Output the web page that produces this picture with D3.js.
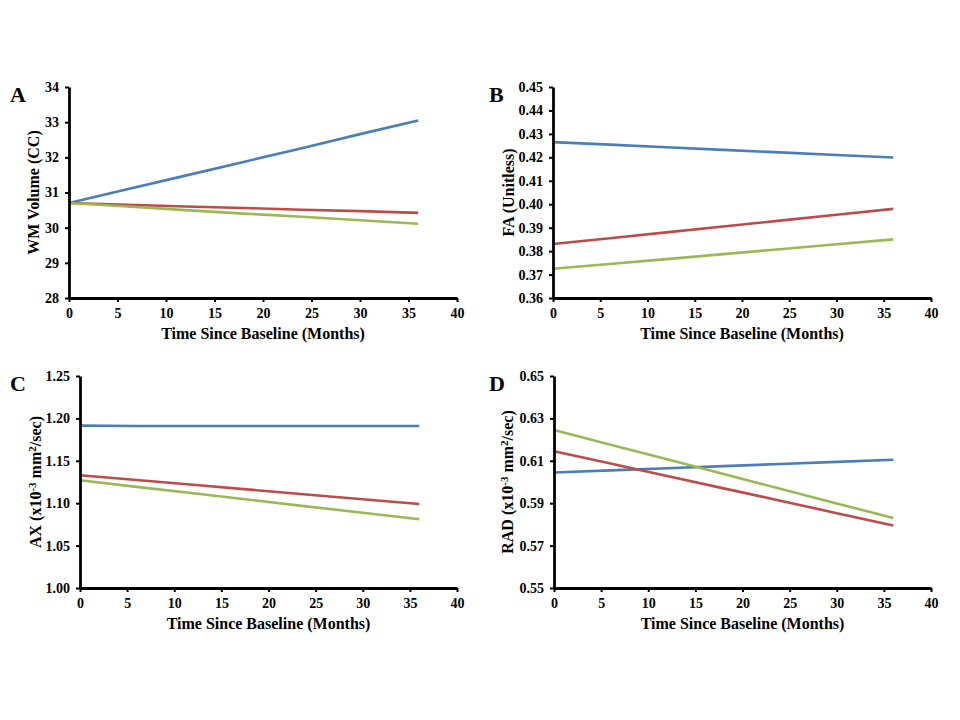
<!DOCTYPE html>
<html>
<head>
<meta charset="utf-8">
<script src="https://cdnjs.cloudflare.com/ajax/libs/d3/7.8.5/d3.min.js"></script>
<style>
body { margin: 0; background: #fff; }
text { font-family: "Liberation Serif", "Times New Roman", serif; font-weight: bold; }
</style>
</head>
<body>
<svg id="chart" width="960" height="720"></svg>
<script>
// months at which the fitted values are shown
var months = [0, 6, 12, 18, 24, 30, 36];

// series colours (blue, red, green)
var colors = ["#4a7ebb", "#be4b48", "#98b954"];

// A: WM volume
var volBlue  = [30.70, 31.09, 31.48, 31.87, 32.26, 32.66, 33.05];
var volRed   = [30.70, 30.65, 30.60, 30.56, 30.51, 30.47, 30.42];
var volGreen = [30.70, 30.60, 30.50, 30.40, 30.31, 30.21, 30.11];

// B: FA
var faBlue  = [0.4265, 0.4254, 0.4243, 0.4232, 0.4221, 0.4210, 0.4199];
var faRed   = [0.3830, 0.3855, 0.3880, 0.3905, 0.3930, 0.3955, 0.3980];
var faGreen = [0.3725, 0.3745, 0.3766, 0.3787, 0.3808, 0.3829, 0.3850];

// C: AX
var axBlue  = [1.1915, 1.1910, 1.1910, 1.1910, 1.1910, 1.1910, 1.1910];
var axRed   = [1.1330, 1.1273, 1.1217, 1.1160, 1.1103, 1.1047, 1.0990];
var axGreen = [1.1270, 1.1193, 1.1117, 1.1040, 1.0963, 1.0887, 1.0810];

// D: RAD
var radBlue  = [0.6045, 0.6055, 0.6065, 0.6075, 0.6085, 0.6095, 0.6105];
var radRed   = [0.6145, 0.6087, 0.6028, 0.5970, 0.5912, 0.5853, 0.5795];
var radGreen = [0.6245, 0.6176, 0.6107, 0.6038, 0.5968, 0.5899, 0.5830];

var xTicks = [0, 5, 10, 15, 20, 25, 30, 35, 40];
var volTicks = [28, 29, 30, 31, 32, 33, 34];
var faTicks = [0.36, 0.37, 0.38, 0.39, 0.40, 0.41, 0.42, 0.43, 0.44, 0.45];
var axTicks = [1.00, 1.05, 1.10, 1.15, 1.20, 1.25];
var radTicks = [0.55, 0.57, 0.59, 0.61, 0.63, 0.65];

var panels = [
  {letter: "A", x0: 69, x1: 457, y0: 87, y1: 298, lx: 10, ty: 33, ticks: volTicks, fmt: d3.format("d"),
   title: [["WM Volume (CC)", ""]], series: [volBlue, volRed, volGreen]},
  {letter: "B", x0: 553, x1: 931, y0: 87, y1: 298, lx: 489, ty: 508, ticks: faTicks, fmt: d3.format(".2f"),
   title: [["FA (Unitless)", ""]], series: [faBlue, faRed, faGreen]},
  {letter: "C", x0: 80, x1: 457, y0: 376, y1: 588, lx: 10, ty: 35, ticks: axTicks, fmt: d3.format(".2f"),
   title: [["AX (x10", ""], ["-3", "sup"], [" mm", ""], ["2", "sup"], ["/sec)", ""]], series: [axBlue, axRed, axGreen]},
  {letter: "D", x0: 554, x1: 931, y0: 376, y1: 588, lx: 489, ty: 507, ticks: radTicks, fmt: d3.format(".2f"),
   title: [["RAD (x10", ""], ["-3", "sup"], [" mm", ""], ["2", "sup"], ["/sec)", ""]], series: [radBlue, radRed, radGreen]}
];

var svg = d3.select("#chart");

panels.forEach(function(p){
  var g = svg.append("g");
  var x = d3.scaleLinear().domain([0, 40]).range([p.x0, p.x1]);
  var y = d3.scaleLinear().domain([p.ticks[0], p.ticks[p.ticks.length - 1]]).range([p.y1, p.y0]);

  // lines first, axes drawn over them
  p.series.forEach(function(vals, i){
    var line = d3.line().x(function(d, j){ return x(months[j]); }).y(function(d){ return y(d); });
    g.append("path").datum(vals)
      .attr("d", line)
      .attr("fill", "none")
      .attr("stroke", colors[i])
      .attr("stroke-width", 2.6)
      .attr("stroke-linejoin", "round");
  });

  var xa = g.append("g").attr("transform", "translate(0," + p.y1 + ")")
    .call(d3.axisBottom(x).tickValues(xTicks).tickSize(4).tickSizeOuter(0).tickPadding(6));
  var ya = g.append("g").attr("transform", "translate(" + p.x0 + ",0)")
    .call(d3.axisLeft(y).tickValues(p.ticks).tickFormat(p.fmt).tickSize(4).tickSizeOuter(0).tickPadding(6));

  [xa, ya].forEach(function(a){
    a.select(".domain").attr("stroke", "#000").attr("stroke-width", 2.8);
    a.selectAll(".tick line").attr("stroke", "#000").attr("stroke-width", 2);
    a.selectAll(".tick text").attr("fill", "#000")
      .style("font-family", "'Liberation Serif', serif").style("font-weight", "bold").style("font-size", "14px");
  });

  // x title
  g.append("text")
    .attr("x", (p.x0 + p.x1) / 2)
    .attr("y", p.y1 + 41)
    .attr("text-anchor", "middle")
    .style("font-size", "16px")
    .text("Time Since Baseline (Months)");

  // y title, rotated, with superscripts
  var yt = g.append("text")
    .attr("transform", "translate(" + p.ty + "," + ((p.y0 + p.y1) / 2) + ") rotate(-90)")
    .attr("text-anchor", "middle")
    .attr("dy", "0.35em")
    .style("font-size", "16px");
  p.title.forEach(function(part){
    var ts = yt.append("tspan").text(part[0]);
    if (part[1] == "sup") {
      ts.attr("dy", "-5").style("font-size", "11px");
    } else if (yt.selectAll("tspan").size() > 1) {
      ts.attr("dy", "5");
    }
  });

  // panel letter
  g.append("text")
    .attr("x", p.lx)
    .attr("y", p.y0 + 15)
    .style("font-size", "22px")
    .text(p.letter);
});
</script>
</body>
</html>
